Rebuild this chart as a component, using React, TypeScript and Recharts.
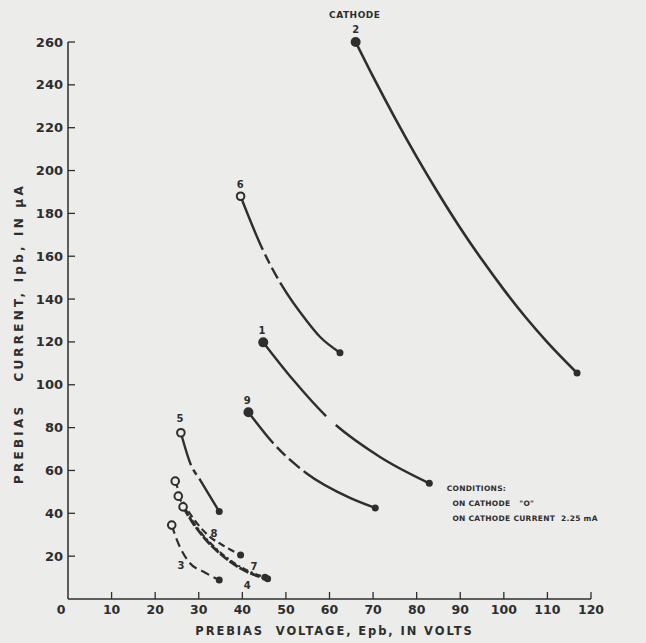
import { LineChart, Line, XAxis, YAxis, ReferenceDot } from "recharts"

const INK = "#2e2e2e"
const PAPER = "#ececea"
const FONT = "'DejaVu Sans', Verdana, sans-serif"

const xTicks = [0, 10, 20, 30, 40, 50, 60, 70, 80, 90, 100, 110, 120]
const yTicks = [0, 20, 40, 60, 80, 100, 120, 140, 160, 180, 200, 220, 240, 260]

// prebias voltage (x) vs prebias current (y), per cathode
const cathode2 = [
  { x: 66.0, y: 260 },
  { x: 70, y: 243.8 },
  { x: 75, y: 224.6 },
  { x: 80, y: 206.4 },
  { x: 85, y: 189.3 },
  { x: 90, y: 173.2 },
  { x: 95, y: 158.3 },
  { x: 100, y: 144.4 },
  { x: 105, y: 131.5 },
  { x: 110, y: 119.8 },
  { x: 116.8, y: 105.5 },
]
const cathode6 = [
  { x: 39.6, y: 188 },
  { x: 44.7, y: 163 },
  { x: 49.0, y: 146.6 },
  { x: 54.7, y: 130 },
  { x: 57.8, y: 122.4 },
  { x: 62.4, y: 115 },
]
const cathode1 = [
  { x: 44.8, y: 119.8 },
  { x: 51.7, y: 102.2 },
  { x: 59.2, y: 85.4 },
  { x: 71.5, y: 66.4 },
  { x: 82.9, y: 54 },
]
const cathode9 = [
  { x: 41.4, y: 87.2 },
  { x: 47.1, y: 72.7 },
  { x: 54.7, y: 58.7 },
  { x: 64.7, y: 47.2 },
  { x: 70.5, y: 42.5 },
]
const cathode5 = [
  { x: 25.9, y: 77.6 },
  { x: 28.2, y: 62.6 },
  { x: 30.3, y: 55.6 },
  { x: 34.7, y: 40.8 },
]
const cathode8 = [
  { x: 24.6, y: 55 },
  { x: 26.5, y: 45 },
  { x: 29, y: 37 },
  { x: 32, y: 30 },
  { x: 36, y: 24.5 },
  { x: 39.6, y: 20.5 },
]
const cathode7 = [
  { x: 25.3, y: 48 },
  { x: 27.5, y: 40 },
  { x: 30.5, y: 31 },
  { x: 34, y: 23.5 },
  { x: 38, y: 17 },
  { x: 42, y: 12.5 },
  { x: 45.2, y: 10.2 },
]
const cathode4 = [
  { x: 26.4, y: 43 },
  { x: 28.5, y: 36 },
  { x: 31.5, y: 28 },
  { x: 35, y: 21 },
  { x: 39, y: 15 },
  { x: 42.5, y: 11.5 },
  { x: 45.8, y: 9.5 },
]
const cathode3 = [
  { x: 23.8, y: 34.5 },
  { x: 25, y: 27.5 },
  { x: 28, y: 16.7 },
  { x: 31.1, y: 12.7 },
  { x: 34.7, y: 8.9 },
]

const curveLabels = [
  { x: 65.8, y: 272.6, text: "CATHODE" },
  { x: 66.0, y: 266.1, text: "2" },
  { x: 39.5, y: 193.3, text: "6" },
  { x: 44.5, y: 125.6, text: "1" },
  { x: 41.1, y: 92.9, text: "9" },
  { x: 25.7, y: 84.5, text: "5" },
  { x: 33.5, y: 30.8, text: "8" },
  { x: 42.7, y: 15.4, text: "7" },
  { x: 25.9, y: 15.9, text: "3" },
  { x: 41.1, y: 6.5, text: "4" },
]

const conditions = [
  { x: 86.9, y: 51.8, text: "CONDITIONS:" },
  { x: 88.2, y: 44.8, text: "ON CATHODE   \"O\"" },
  { x: 88.2, y: 37.8, text: "ON CATHODE CURRENT  2.25 mA" },
]

const curves = [
  { id: "2", data: cathode2, start: "filled", dash: undefined, width: 2.6 },
  { id: "6", data: cathode6, start: "open", dash: "58 5 10 5 12 5 400", width: 2.4 },
  { id: "1", data: cathode1, start: "filled", dash: "97 13 400", width: 2.4 },
  { id: "9", data: cathode9, start: "filled", dash: "40 5 12 5 14 5 400", width: 2.4 },
  { id: "5", data: cathode5, start: "open", dash: "34 5 6 5 300", width: 2.4 },
  { id: "8", data: cathode8, start: "open", dash: "7 4", width: 2.2 },
  { id: "7", data: cathode7, start: "open", dash: "6 3 2 3", width: 2.2 },
  { id: "4", data: cathode4, start: "open", dash: "10 2", width: 2.8 },
  { id: "3", data: cathode3, start: "open", dash: "9 5", width: 2.2 },
]

function makeDot(start: string, last: number) {
  return (p: any) => {
    const { cx, cy, index } = p
    if (index === 0) {
      if (start === "filled") return <circle key={`s${index}`} cx={cx} cy={cy} r={5} fill={INK} />
      return <circle key={`s${index}`} cx={cx} cy={cy} r={3.8} fill={PAPER} stroke={INK} strokeWidth={2} />
    }
    if (index === last) return <circle key={`e${index}`} cx={cx} cy={cy} r={3.5} fill={INK} />
    return <g key={`n${index}`} />
  }
}

const XTick = (p: any) => {
  const { x, y, payload } = p
  return (
    <g>
      {payload.value !== 0 && <line x1={x} y1={y} x2={x} y2={y - 7} stroke={INK} strokeWidth={1.3} />}
      <text x={payload.value === 0 ? x - 7 : x} y={y + 15} textAnchor="middle" fill={INK} fontSize={12.5} fontWeight="bold" fontFamily={FONT}>
        {payload.value}
      </text>
    </g>
  )
}

const YTick = (p: any) => {
  const { x, y, payload } = p
  if (payload.value === 0) return <g />
  return (
    <g>
      <line x1={x} y1={y} x2={x + 7} y2={y} stroke={INK} strokeWidth={1.3} />
      <text x={x - 5} y={y + 4.5} textAnchor="end" fill={INK} fontSize={13} fontWeight="bold" fontFamily={FONT}>
        {payload.value}
      </text>
    </g>
  )
}

const textLabel = (text: string, anchor: string, size: number, spacing: number) => (props: any) => {
  const { viewBox } = props
  return (
    <text x={viewBox.x} y={viewBox.y + size * 0.36} textAnchor={anchor} fill={INK} fontSize={size} fontWeight="bold"
      fontFamily={FONT} letterSpacing={spacing} style={{ whiteSpace: "pre" }}>
      {text}
    </text>
  )
}

export default function App() {
  return (
    <div style={{ position: "absolute", left: 0, top: 0, width: 646, height: 643, background: PAPER }}>
      <LineChart width={646} height={643} margin={{ top: 42, right: 55, bottom: 0, left: 0 }}>
        <XAxis
          type="number"
          dataKey="x"
          domain={[0, 120]}
          ticks={xTicks}
          height={44}
          tickSize={0}
          tickMargin={0}
          tickLine={false}
          tick={XTick}
          axisLine={{ stroke: INK, strokeWidth: 1.5 }}
          label={{
            content: (props: any) => {
              const { viewBox } = props
              return (
                <text x={viewBox.x + viewBox.width / 2 + 5} y={viewBox.y + 36} textAnchor="middle" fill={INK} fontSize={11.5}
                  fontWeight="bold" fontFamily={FONT} letterSpacing={1.9} style={{ whiteSpace: "pre" }}>
                  {"PREBIAS  VOLTAGE, Epb, IN VOLTS"}
                </text>
              )
            },
          }}
        />
        <YAxis
          type="number"
          dataKey="y"
          domain={[0, 260]}
          ticks={yTicks}
          width={68}
          tickSize={0}
          tickMargin={0}
          tickLine={false}
          tick={YTick}
          axisLine={{ stroke: INK, strokeWidth: 1.5 }}
          label={{
            content: (props: any) => {
              const { viewBox } = props
              const cx = 19
              const cy = viewBox.y + viewBox.height / 2 + 13
              return (
                <text x={cx} y={cy} transform={`rotate(-90 ${cx} ${cy})`} dy={4} textAnchor="middle" fill={INK} fontSize={12}
                  fontWeight="bold" fontFamily={FONT} letterSpacing={3.2} style={{ whiteSpace: "pre" }}>
                  {"PREBIAS   CURRENT, Ipb, IN μA"}
                </text>
              )
            },
          }}
        />
        {curves.map((c) => (
          <Line
            key={c.id}
            data={c.data}
            dataKey="y"
            type="monotone"
            stroke={INK}
            strokeWidth={c.width}
            strokeDasharray={c.dash}
            dot={makeDot(c.start, c.data.length - 1)}
            activeDot={false}
            isAnimationActive={false}
          />
        ))}
        {curveLabels.map((l) => (
          <ReferenceDot key={l.text} x={l.x} y={l.y} r={0} ifOverflow="visible"
            label={{ content: textLabel(l.text, "middle", l.text.length > 1 ? 9 : 10, l.text.length > 1 ? 0.5 : 0) }} />
        ))}
        {conditions.map((l) => (
          <ReferenceDot key={l.text} x={l.x} y={l.y} r={0} ifOverflow="visible"
            label={{ content: textLabel(l.text, "start", 7.5, 0.3) }} />
        ))}
      </LineChart>
    </div>
  )
}
